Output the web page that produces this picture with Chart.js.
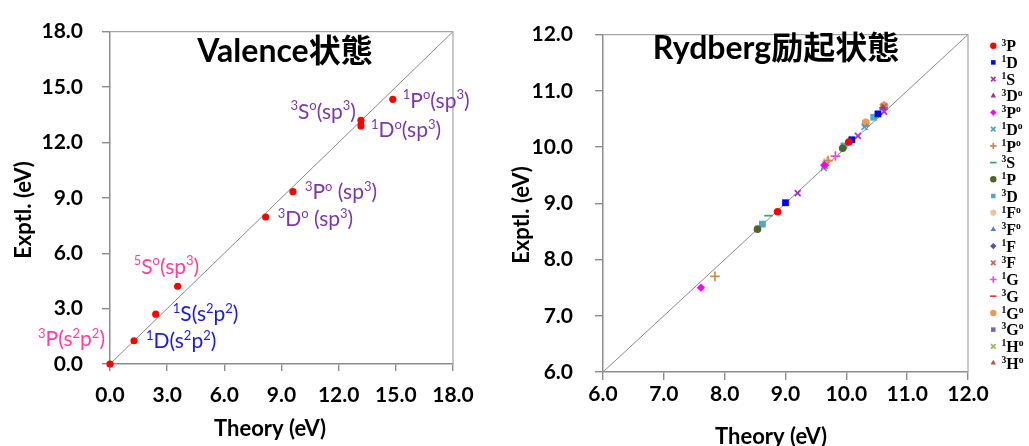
<!DOCTYPE html>
<html><head><meta charset="utf-8">
<script src="https://cdn.jsdelivr.net/npm/chart.js@4.4.1/dist/chart.umd.min.js"></script>
<style>
html,body{margin:0;padding:0;background:#fff;width:1029px;height:446px;overflow:hidden}
#c1{position:absolute;left:0;top:0}
#c2{position:absolute;left:500px;top:0}
</style></head><body>
<canvas id="c1" width="500" height="446"></canvas>
<canvas id="c2" width="529" height="446"></canvas>
<script>
// ---------- DATA: Valence states ----------
const valenceTheory = [0.00, 1.26, 2.40, 3.55, 8.17, 9.60, 13.17, 13.17, 14.84];
const valenceExptl  = [0.00, 1.26, 2.70, 4.21, 7.96, 9.33, 13.19, 12.89, 14.33];
const valenceLabels = ['³P(s²p²)', '¹D(s²p²)', '¹S(s²p²)', '⁵Sᵒ(sp³)', '³Dᵒ (sp³)', '³Pᵒ (sp³)', '³Sᵒ(sp³)', '¹Dᵒ(sp³)', '¹Pᵒ(sp³)'];
const valenceTicks  = [0, 3, 6, 9, 12, 15, 18];
const valenceTitle  = 'Valence状態';

// ---------- DATA: Rydberg states ----------
const rydbergSeries = ['³P','¹D','¹S','³Dᵒ','³Pᵒ','¹Dᵒ','¹Pᵒ','³S','¹P','³D','¹Fᵒ','³Fᵒ','¹F','³F','¹G','³G','¹Gᵒ','³Gᵒ','¹Hᵒ','³Hᵒ'];
const r3P  = [[8.87, 8.85], [10.04, 10.09]];
const r1D  = [[9.00, 9.01], [10.09, 10.13], [10.52, 10.59]];
const r1S  = [[9.20, 9.18], [10.19, 10.20], [10.62, 10.63]];
const r3Do = [[10.60, 10.70]];
const r3Po = [[7.61, 7.50], [9.64, 9.68]];
const r1Do = [[9.63, 9.63], [10.30, 10.36]];
const r1Po = [[7.84, 7.70], [9.70, 9.76]];
const r3S  = [[8.72, 8.78]];
const r1P  = [[8.54, 8.54], [9.94, 9.98]];
const r3D  = [[8.62, 8.63], [9.96, 10.02], [10.45, 10.53]];
const r1Fo = [[9.68, 9.74]];
const r3Fo = [[9.64, 9.65]];
const r1F  = [[9.66, 9.69]];
const r3F  = [[10.62, 10.72]];
const r1G  = [[9.82, 9.84]];
const r3G  = [[10.61, 10.70]];
const r1Go = [[10.32, 10.44], [10.62, 10.74]];
const r3Go = [[10.32, 10.42], [10.62, 10.72]];
const r1Ho = [[10.60, 10.71]];
const r3Ho = [[10.62, 10.75]];
const rydbergPoints = [r3P, r1D, r1S, r3Do, r3Po, r1Do, r1Po, r3S, r1P, r3D, r1Fo, r3Fo, r1F, r3F, r1G, r3G, r1Go, r3Go, r1Ho, r3Ho];
const rydbergTicks  = [6, 7, 8, 9, 10, 11, 12];
const rydbergTitle  = 'Rydberg励起状態';

const axisTitleX = 'Theory (eV)';
const axisTitleY = 'Exptl. (eV)';

// ---------- STYLES ----------
const SANS = "Lato, 'Noto Sans CJK JP', sans-serif";
const SERIF = "'Liberation Serif', 'DejaVu Serif', serif";
const AXIS_GRAY = '#8c8c8c';
const PINK = '#ff3fa0', BLUE = '#1a1ae6', PURPLE = '#7a38b0';
const valenceLabelStyle = [
  {color: PINK,   align: 'right', dx: -5,  dy: -25},
  {color: BLUE,   align: 'left',  dx: 12,  dy: 0},
  {color: BLUE,   align: 'left',  dx: 17,  dy: 0},
  {color: PINK,   align: 'left',  dx: -44, dy: -20},
  {color: PURPLE, align: 'left',  dx: 12,  dy: 2},
  {color: PURPLE, align: 'left',  dx: 12,  dy: 0},
  {color: PURPLE, align: 'right', dx: -5,  dy: -9},
  {color: PURPLE, align: 'left',  dx: 10,  dy: 4},
  {color: PURPLE, align: 'left',  dx: 10,  dy: 1}
];
const rydbergStyle = [
  ['circle',   '#ff0000', 3.8], ['rect',     '#0000ff', 4.8], ['crossRot', '#b02cc8', 4.2],
  ['triangle', '#94407f', 4.2], ['rectRot',  '#ff00ff', 4.2], ['crossRot', '#4ba6c2', 4.2],
  ['cross',    '#cf8a4c', 4.8], ['line',     '#2ea866', 4.2], ['circle',   '#4f6228', 3.8],
  ['rect',     '#4bacc6', 4.8], ['star',     '#f5bf98', 4.8], ['triangle', '#4f81bd', 4.2],
  ['rectRot',  '#5e4fa0', 4.2], ['crossRot', '#d4605e', 4.2], ['cross',    '#ff40e0', 4.8],
  ['line',     '#e03a3a', 4.2], ['circle',   '#f79646', 3.8], ['rect',     '#8064a2', 4.8],
  ['crossRot', '#9bbb59', 4.2], ['triangle', '#c0504d', 4.2]
];

// ---------- rich text with superscripts ----------
const SUP = {'¹':'1','²':'2','³':'3','⁵':'5','ᵒ':'o'};
function segs(str){
  const out = [];
  for (const ch of str){
    const sup = SUP[ch] !== undefined;
    const t = sup ? SUP[ch] : ch;
    const last = out[out.length-1];
    if (last && last.sup === sup) last.t += t; else out.push({t, sup});
  }
  return out;
}
function drawRich(ctx, str, x, yMid, o){
  const parts = segs(str);
  const main = `${o.weight||'normal'} ${o.size}px ${o.family}`;
  const sub  = `${o.weight||'normal'} ${o.size*(o.supScale||0.62)}px ${o.family}`;
  let w = 0;
  for (const p of parts){ ctx.font = p.sup ? sub : main; p.w = ctx.measureText(p.t).width; w += p.w; }
  let cx = o.align === 'right' ? x - w : (o.align === 'center' ? x - w/2 : x);
  const base = yMid + o.size*0.35;
  ctx.fillStyle = o.color; ctx.textBaseline = 'alphabetic'; ctx.textAlign = 'left';
  for (const p of parts){
    ctx.font = p.sup ? sub : main;
    ctx.fillText(p.t, cx, p.sup ? base - o.size*(o.supRise||0.38) : base);
    cx += p.w;
  }
}

const decor = {
  id: 'decor',
  afterDatasetsDraw(chart, args, opts){
    const ctx = chart.ctx, ca = chart.chartArea;
    ctx.save();
    ctx.strokeStyle = '#a6a6a6'; ctx.lineWidth = 1.2;
    ctx.beginPath(); ctx.moveTo(ca.left, ca.top); ctx.lineTo(ca.right, ca.top); ctx.lineTo(ca.right, ca.bottom); ctx.stroke();
    drawRich(ctx, opts.title, opts.titleX, opts.titleY, {size: 32, family: SANS, weight: 'bold', color: '#000', align: 'center'});
    drawRich(ctx, axisTitleX, opts.xTitleX, opts.xTitleY, {size: 22, family: SANS, weight: 'bold', color: '#000', align: 'center'});
    ctx.save(); ctx.translate(opts.yTitleX, opts.yTitleY); ctx.rotate(-Math.PI/2);
    drawRich(ctx, axisTitleY, 0, 0, {size: 22, family: SANS, weight: 'bold', color: '#000', align: 'center'});
    ctx.restore();
    if (opts.pointLabels){
      const meta = chart.getDatasetMeta(0);
      opts.pointLabels.forEach((lab, i) => {
        const el = meta.data[i], st = valenceLabelStyle[i];
        drawRich(ctx, lab, el.x + st.dx, el.y + st.dy, {size: 21, family: SANS, color: st.color, align: st.align, supScale: 0.62, supRise: 0.4});
      });
    }
    if (opts.legend){
      opts.legend.forEach((name, i) => {
        const y = 45.7 + i*16.7;
        const ds = chart.data.datasets[i];
        ctx.fillStyle = ds.backgroundColor; ctx.strokeStyle = ds.borderColor; ctx.lineWidth = ds.borderWidth;
        Chart.helpers.drawPoint(ctx, {pointStyle: ds.pointStyle, radius: 3.2, rotation: 0, borderWidth: ds.borderWidth}, 493.3, y);
        drawRich(ctx, name, 501.5, y, {size: 16, family: SERIF, weight: 'bold', color: '#000', align: 'left', supScale: 0.6, supRise: 0.36});
      });
    }
    ctx.restore();
  }
};

function axis(min, max, ticksArr, size, tickLen, pad){
  return {
    type: 'linear', min, max,
    afterBuildTicks: s => { s.ticks = ticksArr.map(v => ({value: v})); },
    afterFit: s => { if (s.isHorizontal()) s.height = size; else s.width = size; },
    ticks: {callback: v => Number(v).toFixed(1), color: '#000', padding: pad, maxRotation: 0, autoSkip: false,
            font: {family: SANS, size: 21, weight: 'bold'}},
    grid: {drawOnChartArea: false, drawTicks: true, tickLength: tickLen, color: AXIS_GRAY, lineWidth: 1.4},
    border: {display: true, color: AXIS_GRAY, width: 1.5}
  };
}

// ---------- Valence chart ----------
new Chart(document.getElementById('c1'), {
  type: 'scatter',
  data: {datasets: [
    {data: valenceTheory.map((x, i) => ({x, y: valenceExptl[i]})), backgroundColor: '#ff0000', borderColor: '#ff0000',
     pointRadius: 3.6, pointHoverRadius: 3.6, borderWidth: 0, clip: false, order: 0},
    {type: 'line', data: [{x: valenceTicks[0], y: valenceTicks[0]}, {x: valenceTicks[valenceTicks.length-1], y: valenceTicks[valenceTicks.length-1]}],
     borderColor: '#8a8a8a', borderWidth: 1, pointRadius: 0, fill: false, order: 1}
  ]},
  options: {
    responsive: false, animation: false, events: [],
    layout: {padding: {top: 22, right: 47, left: 0, bottom: 0}},
    plugins: {legend: {display: false}, tooltip: {enabled: false},
      decor: {title: valenceTitle, titleX: 285, titleY: 51, xTitleX: 270, xTitleY: 428, yTitleX: 23, yTitleY: 210, pointLabels: valenceLabels}},
    scales: {
      x: axis(0, 18, valenceTicks, 82, 7, 12),
      y: axis(0, 18, valenceTicks, 110, 8, 19)
    }
  },
  plugins: [decor]
});

// ---------- Rydberg chart ----------
const rydDatasets = rydbergPoints.map((pts, i) => ({
  label: rydbergSeries[i],
  data: pts.map(p => ({x: p[0], y: p[1]})),
  pointStyle: rydbergStyle[i][0], backgroundColor: rydbergStyle[i][1], borderColor: rydbergStyle[i][1],
  pointRadius: rydbergStyle[i][2], pointHoverRadius: rydbergStyle[i][2],
  borderWidth: ['cross','crossRot','star','line'].includes(rydbergStyle[i][0]) ? 1.7 : 0, clip: false, order: 0
}));
rydDatasets.push({type: 'line', data: [{x: rydbergTicks[0], y: rydbergTicks[0]}, {x: rydbergTicks[rydbergTicks.length-1], y: rydbergTicks[rydbergTicks.length-1]}],
  borderColor: '#8a8a8a', borderWidth: 1, pointRadius: 0, fill: false, order: 1});

new Chart(document.getElementById('c2'), {
  type: 'scatter',
  data: {datasets: rydDatasets},
  options: {
    responsive: false, animation: false, events: [],
    layout: {padding: {top: 21, right: 61, left: 0, bottom: 0}},
    plugins: {legend: {display: false}, tooltip: {enabled: false},
      decor: {title: rydbergTitle, titleX: 276, titleY: 48, xTitleX: 271, xTitleY: 436, yTitleX: 21, yTitleY: 215, legend: rydbergSeries}},
    scales: {
      x: axis(6, 12, rydbergTicks, 74, 8, 2),
      y: axis(6, 12, rydbergTicks, 103, 8, 22)
    }
  },
  plugins: [decor]
});
</script>
</body></html>
